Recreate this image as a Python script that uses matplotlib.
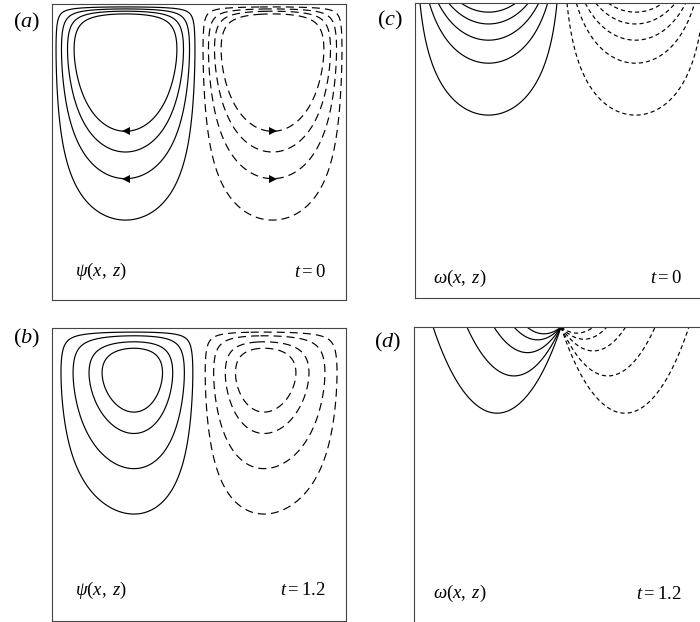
import numpy as np
import matplotlib
matplotlib.use("Agg")
import matplotlib.pyplot as plt

plt.rcParams['mathtext.fontset'] = 'custom'
plt.rcParams['mathtext.rm'] = 'Liberation Serif'
plt.rcParams['mathtext.it'] = 'Liberation Serif:italic'
plt.rcParams['lines.scale_dashes'] = False

# as fractions of the box
# (x from the left wall, depth measured down from the lid)
psi0_bottom = [0.43, 0.50, 0.59, 0.73]        # lowest point of each streamline, t=0
psi12_bottom = [0.287, 0.36, 0.48, 0.635]     # same, t=1.2
psi0_arrow_bottom = [0.43, 0.59]              # streamlines that carry arrowheads
omega0_bottom = [0.031, 0.071, 0.126, 0.204, 0.38]
omega12_left_end = [0.065, 0.18, 0.272, 0.34, 0.384]    # solid lines meet the lid
omega12_right_end = [0.935, 0.82, 0.72, 0.656, 0.61]    # dashed lines meet the lid
panel_labels = ['(a)', '(b)', '(c)', '(d)']
times = ['0', '1.2']

W, H = 700, 622
xs = np.linspace(0, 1, 901)
ds = np.linspace(1e-4, 1, 901)
XX, DD = np.meshgrid(xs, ds)

PSI_DASH = (0, (5.8, 3.6))
OMEGA_DASH = (0, (3.0, 2.2))


def psi_field(x, d, skew):
    # two counter-rotating cells under the lid
    theta = 2 * np.pi * x
    shape = np.sign(np.sin(theta)) * np.abs(np.sin(theta)) ** 0.4 * (1 - skew * np.cos(theta))
    return shape * np.exp(-2.1 * (0.07 / np.sqrt(d) + d ** 1.5))


def omega0_field(x, d):
    return np.sin(2 * np.pi * x) * np.exp(-d / 0.17)


def omega12_field(x, d):
    u = x - 0.5
    return -u / (u ** 2 + 0.145 * d + 0.06 * d ** 2 + 1e-12)


def rect(l, t, r, b):
    return [l / W, 1 - b / H, (r - l) / W, (b - t) / H]


fig = plt.figure(figsize=(W / 100, H / 100), dpi=100)
axes = [fig.add_axes(rect(52, 4, 346, 300)),
        fig.add_axes(rect(52, 328, 346, 621)),
        fig.add_axes(rect(415, 3, 709, 298)),
        fig.add_axes(rect(414, 327, 708, 623))]

for ax in axes:
    ax.set_xlim(0, 1)
    ax.set_ylim(1, 0)
    ax.set_xticks([])
    ax.set_yticks([])
    for sp in ax.spines.values():
        sp.set_color('#444444')
        sp.set_linewidth(0.8)
axes[3].spines['bottom'].set_visible(False)

# streamfunction panels
for k, (bottoms, skew) in enumerate(zip([psi0_bottom, psi12_bottom], [0.0, 0.075])):
    ax = axes[k]
    Z = psi_field(XX, DD, skew)
    lv = np.sort([psi_field(xs, np.full_like(xs, db), skew).max() for db in bottoms])
    ax.contour(XX, DD, Z, levels=lv, colors='k', linewidths=0.85, linestyles='solid')
    cs = ax.contour(XX, DD, Z, levels=np.sort(-lv), colors='k', linewidths=0.85)
    cs.set_linestyle(PSI_DASH)
    if k == 0:
        for db in psi0_arrow_bottom:
            row = psi_field(xs, np.full_like(xs, db), skew)
            ax.plot(xs[np.argmax(row)], db, marker='<', color='k', ms=6, mew=0)
            ax.plot(xs[np.argmin(row)], db, marker='>', color='k', ms=6, mew=0)

# vorticity, t=0
ax = axes[2]
Z = omega0_field(XX, DD)
lv = np.sort(np.exp(-np.array(omega0_bottom) / 0.17))
ax.contour(XX, DD, Z, levels=lv, colors='k', linewidths=0.85, linestyles='solid')
cs = ax.contour(XX, DD, Z, levels=np.sort(-lv), colors='k', linewidths=0.85)
cs.set_linestyle(OMEGA_DASH)

# vorticity, t=1.2
ax = axes[3]
Z = omega12_field(XX, DD)
pos = np.sort(1 / (0.5 - np.array(omega12_left_end)))
neg = np.sort(-1 / (np.array(omega12_right_end) - 0.5))
ax.contour(XX, DD, Z, levels=pos, colors='k', linewidths=0.85, linestyles='solid')
cs = ax.contour(XX, DD, Z, levels=neg, colors='k', linewidths=0.85)
cs.set_linestyle(OMEGA_DASH)

# captions inside the boxes
fs = 13.5
captions = [(axes[0], r'$\psi(x,\;z)$', 0.078, 0.095, 0.93, times[0]),
            (axes[1], r'$\psi(x,\;z)$', 0.078, 0.106, 0.93, times[1]),
            (axes[2], r'$\omega(x,\;z)$', 0.06, 0.068, 0.908, times[0]),
            (axes[3], r'$\omega(x,\;z)$', 0.065, 0.10, 0.91, times[1])]
for ax, name, x0, y0, x1, t in captions:
    ax.text(x0, y0, name, transform=ax.transAxes, fontsize=fs, ha='left', va='center')
    ax.text(x1, y0, r'$t=%s$' % t, transform=ax.transAxes, fontsize=fs,
            ha='right', va='center')

label_pos = [(27, 22), (27, 338), (390, 20), (388, 342)]
for lab, (px, py) in zip(panel_labels, label_pos):
    fig.text(px / W, 1 - py / H, r'$(%s)$' % lab[1], fontsize=16, ha='center', va='center')

fig.savefig('out.png', dpi=100)
